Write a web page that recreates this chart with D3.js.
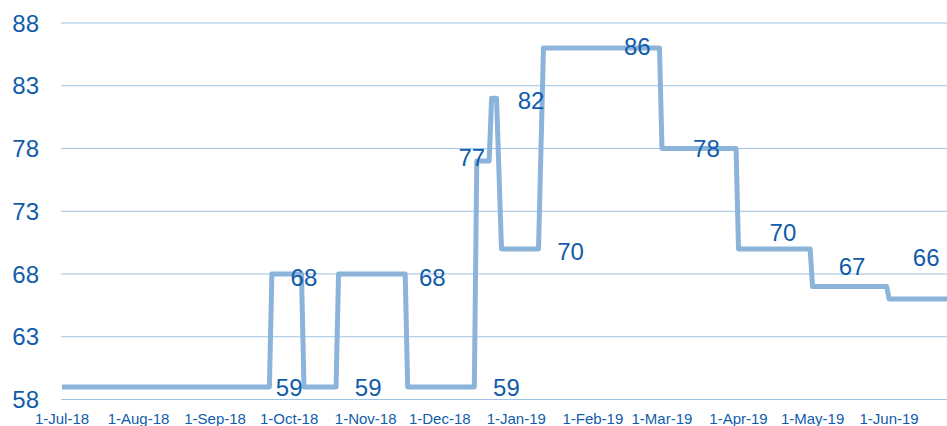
<!DOCTYPE html>
<html>
<head>
<meta charset="utf-8">
<script src="https://cdn.jsdelivr.net/npm/d3@7"></script>
<style>
  html, body { margin: 0; padding: 0; background: #fff; }
  svg { display: block; }
  text { font-family: "Liberation Sans", Arial, sans-serif; }
</style>
</head>
<body>
<svg id="chart" width="947" height="426"></svg>
<script>
// ---- data ----
const dates = ["2018-07-01","2018-09-23","2018-09-24","2018-10-06","2018-10-07","2018-10-20","2018-10-21",
  "2018-11-17","2018-11-18","2018-12-15","2018-12-16","2018-12-21","2018-12-22","2018-12-24","2018-12-26",
  "2019-01-10","2019-01-12","2019-02-28","2019-03-01","2019-03-31","2019-04-01","2019-04-30","2019-05-01",
  "2019-05-31","2019-06-01","2019-06-30"];
const values = [59,59,68,68,59,59,68,68,59,59,77,77,82,82,70,70,86,86,78,78,70,70,67,67,66,66];

const labelDates = ["2018-10-01","2018-10-07","2018-11-02","2018-11-28","2018-12-14","2018-12-28","2019-01-07",
  "2019-01-23","2019-02-19","2019-03-19","2019-04-19","2019-05-17","2019-06-16"];
const labelValues = [59,68,59,68,77,59,82,70,86,78,70,67,66];

const yTicks = [58,63,68,73,78,83,88];
const xTickDates = ["2018-07-01","2018-08-01","2018-09-01","2018-10-01","2018-11-01","2018-12-01",
  "2019-01-01","2019-02-01","2019-03-01","2019-04-01","2019-05-01","2019-06-01"];

// ---- label placement (style) ----
const labelDy = [0,3,0,3,-4,0,2,2,-2,0,-17,-20,-42];

const parse = d3.utcParse("%Y-%m-%d");
const fmt = d3.utcFormat("%-d-%b-%y");

const svg = d3.select("#chart");
const x = d3.scaleUtc()
  .domain([parse("2018-07-01"), parse("2019-06-30")])
  .range([62, 62 + 364 * 2.469]);
const y = d3.scaleLinear().domain([58, 88]).range([399.5, 23]);

const textColor = "#105CAA";
const gridColor = "#9DC3E6";
const lineColor = "#8CB4DA";

// gridlines
svg.append("g").selectAll("line").data(yTicks).join("line")
  .attr("x1", 61).attr("x2", 947)
  .attr("y1", d => y(d)).attr("y2", d => y(d))
  .attr("stroke", gridColor).attr("stroke-width", 1);

// y axis labels
svg.append("g").selectAll("text").data(yTicks).join("text")
  .attr("x", 39).attr("y", d => y(d) + 8.6)
  .attr("text-anchor", "end")
  .attr("font-size", 24).attr("fill", textColor)
  .text(d => d);

// x axis labels
svg.append("g").selectAll("text").data(xTickDates).join("text")
  .attr("x", d => x(parse(d))).attr("y", 424)
  .attr("text-anchor", "middle")
  .attr("font-size", 15).attr("fill", textColor)
  .text(d => fmt(parse(d)));

// line
const pts = dates.map((d, i) => [parse(d), values[i]]);
const line = d3.line().x(d => x(d[0])).y(d => y(d[1]));
svg.append("path").datum(pts)
  .attr("d", line)
  .attr("fill", "none")
  .attr("stroke", lineColor)
  .attr("stroke-width", 5)
  .attr("stroke-linejoin", "round");

// data labels
svg.append("g").selectAll("text").data(labelDates).join("text")
  .attr("x", d => x(parse(d)))
  .attr("y", (d, i) => y(labelValues[i]) + labelDy[i] + 8.6)
  .attr("text-anchor", "middle")
  .attr("font-size", 24).attr("fill", textColor)
  .text((d, i) => labelValues[i]);
</script>
</body>
</html>
